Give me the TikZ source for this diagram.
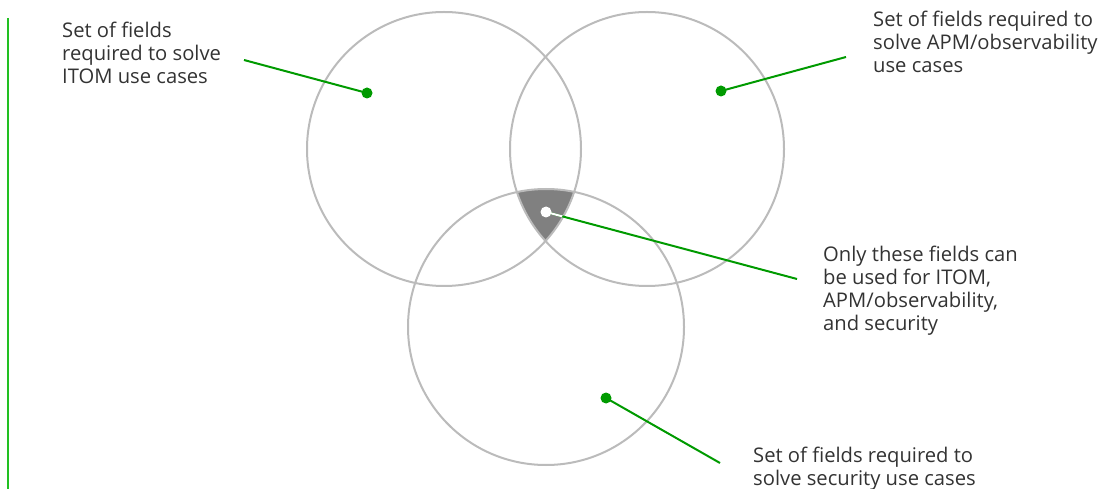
\documentclass[tikz,border=0pt]{standalone}
\usepackage{fontspec}
\setmainfont{Open Sans}
\definecolor{circgray}{HTML}{BBBBBB}
\definecolor{fillgray}{HTML}{808080}
\definecolor{leadgreen}{HTML}{009A00}
\definecolor{bargreen}{HTML}{22C022}
\definecolor{txt}{HTML}{333333}
\tikzset{
  venn/.style={draw=circgray, line width=2bp},
  dotnode/.style={circle, fill=leadgreen, inner sep=0pt, minimum size=11bp},
  whitedot/.style={circle, fill=white, inner sep=0pt, minimum size=11bp},
  leader/.style={draw=leadgreen, line width=2bp},
  label/.style={anchor=base west, align=left, inner sep=0pt, text=txt,
    font=\fontsize{20.2bp}{23bp}\selectfont},
}
\begin{document}
\begin{tikzpicture}[x=1bp, y=-1bp]
\useasboundingbox (0,0) rectangle (1102,489);
\coordinate (cA) at (444,149);
\coordinate (cB) at (647,149);
\coordinate (cC) at (546,327);
% central intersection
\begin{scope}
  \clip (cA) circle (137);
  \clip (cB) circle (137);
  \fill[fillgray] (cC) circle (138);
\end{scope}
% circles
\draw[venn] (cA) circle (137);
\draw[venn] (cB) circle (137);
\draw[venn] (cC) circle (138);
% vertical bar
\coordinate (barTop) at (7.5,18);
\coordinate (barBot) at (7.5,489);
\draw[draw=bargreen, line width=2bp] (barTop) -- (barBot);
% dots
\node[dotnode] (dA) at (367,93) {};
\node[dotnode] (dB) at (721,91) {};
\node[dotnode] (dC) at (606,398) {};
% leader ends
\coordinate (eA) at (244,60);
\coordinate (eB) at (846,57);
\coordinate (eC) at (720,463);
\coordinate (eM) at (797,279);
\coordinate (cM) at (546,212);
\draw[leader] (dA.center) -- (eA);
\draw[leader] (dB.center) -- (eB);
\draw[leader] (dC.center) -- (eC);
\draw[leader] (cM) -- (eM);
\begin{scope}
  \clip (cA) circle (136);
  \clip (cB) circle (136);
  \clip (cC) circle (137);
  \draw[draw=white, line width=2bp] (cM) -- (eM);
\end{scope}
\node[whitedot] (dM) at (cM) {};
% labels (anchor = baseline of last line)
\node[label] (tA) at (62,84) {Set of fields\\required to solve\\ITOM use cases};
\node[label] (tB) at (873,73) {Set of fields required to\\solve APM/observability\\use cases};
\node[label] (tM) at (823,331) {Only these fields can\\be used for ITOM,\\APM/observability,\\and security};
\node[label] (tC) at (753,485) {Set of fields required to\\solve security use cases};
\end{tikzpicture}
\end{document}
